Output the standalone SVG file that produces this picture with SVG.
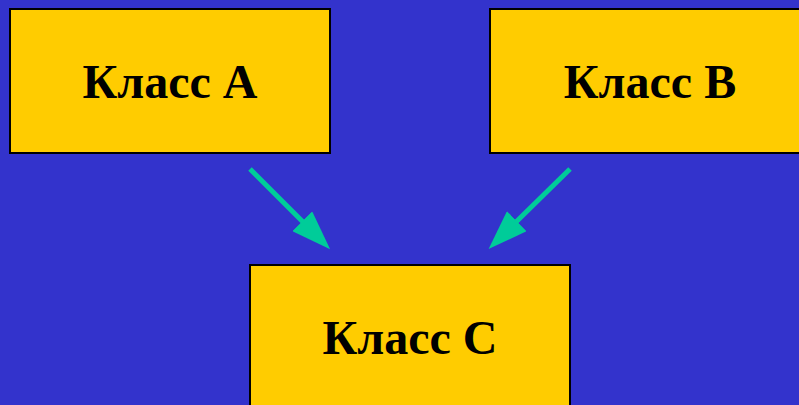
<svg xmlns="http://www.w3.org/2000/svg" width="799" height="405" viewBox="0 0 799 405">
  <style>
    .box { fill: #FFCC00; stroke: #000000; stroke-width: 2; }
    .label { font-family: "Liberation Serif", "Times New Roman", serif; font-weight: bold; font-size: 48px; fill: #000000; text-anchor: middle; }
    .link { stroke: #00CC99; stroke-width: 5; fill: none; marker-end: url(#head); }
  </style>
  <defs>
    <marker id="head" markerUnits="userSpaceOnUse" markerWidth="40" markerHeight="28" refX="1" refY="13.5" orient="auto" viewBox="0 0 38 27">
      <path d="M0,0 L38,13.5 L0,27 Z" fill="#00CC99"/>
    </marker>
  </defs>
  <rect width="799" height="405" fill="#3333CC"/>
  <g id="class-a">
    <rect class="box" x="10" y="9" width="320" height="144"/>
    <text class="label" x="170" y="98">Класс A</text>
  </g>
  <g id="class-b">
    <rect class="box" x="490" y="9" width="320" height="144"/>
    <text class="label" x="650" y="98">Класс B</text>
  </g>
  <g id="class-c">
    <rect class="box" x="250" y="265" width="320" height="160"/>
    <text class="label" x="410" y="354">Класс C</text>
  </g>
  <g id="connectors">
    <line class="link" x1="250" y1="169" x2="303" y2="222"/>
    <line class="link" x1="570" y1="169" x2="516" y2="222"/>
  </g>
</svg>
